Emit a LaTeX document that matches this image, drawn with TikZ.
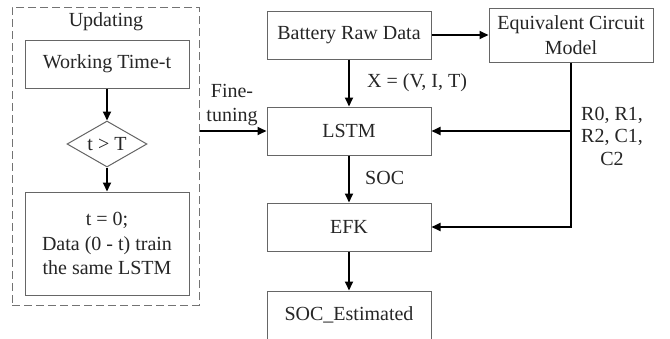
\documentclass[tikz,border=0pt]{standalone}
\usepackage{fontspec}
\setmainfont{Liberation Serif}
\usetikzlibrary{arrows.meta,shapes.geometric}
\begin{document}
\begin{tikzpicture}[x=1pt,y=-1pt,
 font=\fontsize{20}{24}\selectfont,
 box/.style={draw=black!60, line width=1pt, rectangle, minimum width=164pt, minimum height=48pt, inner sep=0pt, align=center, text=black!85},
 dia/.style={draw=black!60, line width=1pt, diamond, aspect=1.74, minimum width=80pt, minimum height=46pt, inner sep=0pt, text=black!85},
 lbl/.style={text=black!85, inner sep=0pt, align=center},
 arr/.style={line width=2pt, -{Triangle[length=9pt,width=8pt]}},
 ln/.style={line width=2pt}]
\useasboundingbox (0,0) rectangle (670,338);
\clip (0,0) rectangle (670,338);
\fill[white] (0,0) rectangle (670,338);
% updating group
\node[draw=black!55, dash pattern=on 8pt off 4pt, line width=1pt, minimum width=187pt, minimum height=298pt, inner sep=0pt] (upd) at (105.5,156) {};
\node[lbl] (updl) at (106,22) {Updating};
\node[box] (work) at (107,64) {Working Time-t};
\node[dia] (cond) at (107,144) {t > T};
\node[box, minimum height=103pt, font=\fontsize{20}{24.5}\selectfont] (train) at (107,243.5) {t = 0;\\Data (0 - t) train\\the same LSTM};
% main chain
\node[box] (bat) at (349,35) {Battery Raw Data};
\node[box] (lstm) at (349,131) {LSTM};
\node[box] (efk) at (349,227) {EFK};
\node[box] (soce) at (349,315) {SOC\_Estimated};
\node[box, minimum height=54pt, font=\fontsize{20}{25}\selectfont] (ecm) at (571,35) {Equivalent Circuit\\Model};
% connectors
\draw[arr] (work) -- (cond);
\draw[arr] (cond) -- (train);
\draw[arr] (bat) -- (lstm);
\draw[arr] (lstm) -- (efk);
\draw[arr] (efk) -- (soce);
\draw[arr] (bat) -- (ecm);
\draw[arr] (ecm.south) |- (efk.east);
\draw[arr] (ecm.south |- lstm.east) -- (lstm.east);
\draw[arr] (upd.east |- lstm.west) -- (lstm.west);
% labels
\node[lbl, anchor=west] (xl) at (367,83) {X = (V, I, T)};
\node[lbl, anchor=west] (socl) at (365,178) {SOC};
\node[lbl] (ftl) at (232,105) {Fine-\\tuning};
\node[lbl, font=\fontsize{20}{22.5}\selectfont] (rl) at (612,136) {R0, R1,\\R2, C1,\\C2};
\end{tikzpicture}
\end{document}
